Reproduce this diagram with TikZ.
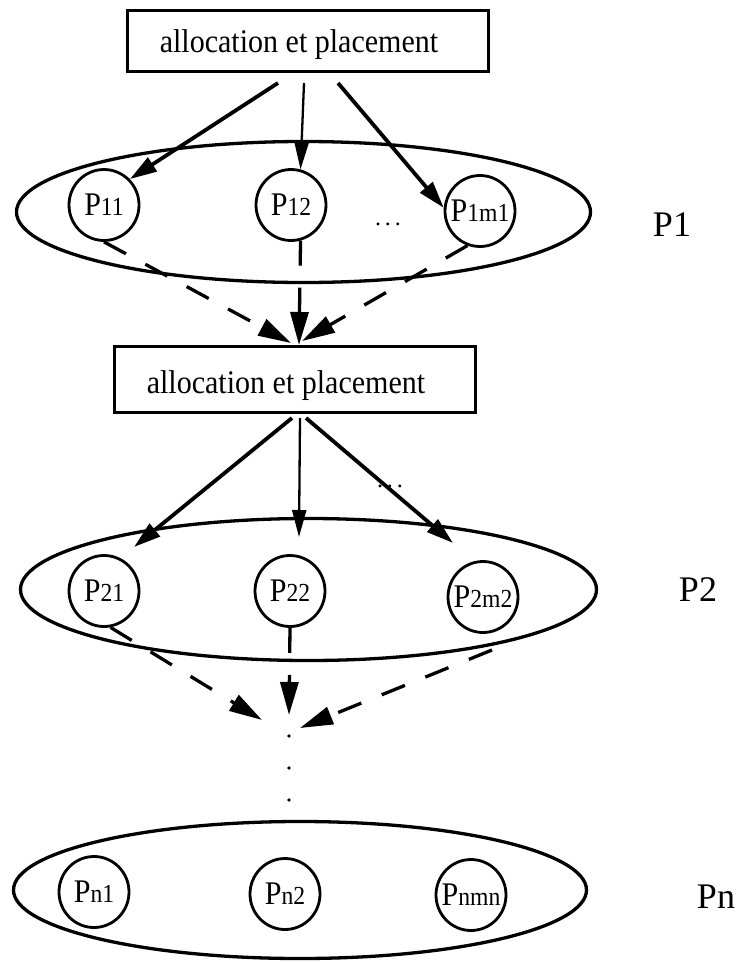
\documentclass[tikz,border=0pt]{standalone}
\usepackage{fontspec}
\setmainfont{Liberation Serif}
\newfontfamily\narrowserif{Liberation Serif}[FakeStretch=0.91]
\usetikzlibrary{arrows.meta,shapes.geometric}

% processor name: capital P followed by a smaller index on the baseline
\newcommand{\pname}[2]{\makebox[0pt]{\narrowserif\fontsize{33}{33}\selectfont
  #1{\fontsize{26}{26}\selectfont #2}}}
\newcommand{\dotsrow}{{\fontsize{24}{24}\selectfont .\kern4pt.\kern4pt.}}

\begin{document}
\begin{tikzpicture}[x=1pt,y=-1pt,
  every node/.style={font=\fontsize{30}{30}\selectfont},
  phase/.style={font=\fontsize{36}{36}\selectfont},
  group/.style={draw,ellipse,line width=3.3pt,inner sep=0pt},
  proc/.style={draw,ellipse,line width=2.8pt,inner sep=0pt,
    minimum width=70pt,minimum height=71pt},
  taskbox/.style={draw,rectangle,line width=3pt,inner sep=0pt,
    minimum width=361pt,text depth=0pt,
    font=\narrowserif\fontsize{33}{33}\selectfont},
  alloc/.style={-{Triangle[length=27pt,width=16pt]},line width=3.8pt},
  allocmid/.style={-{Triangle[length=27pt,width=14pt]},line width=2.3pt},
  flow/.style={-{Triangle[length=33pt,width=18pt]},line width=3.3pt,
    dash pattern=on 25pt off 22pt},
]
\useasboundingbox (0,0) rectangle (740,963);

% ---------- phase 1 ----------
\node[taskbox,minimum height=61pt,text height=23pt] (alloc1) at (307.5,41.5)
  {allocation et placement\hspace*{17pt}};

\node[group,minimum width=574pt,minimum height=141pt] (g1) at (303.5,212) {};
\node[proc] (p11)  at (104,205) {\pname{P}{11}};
\node[proc] (p12)  at (291,205) {\pname{P}{12}};
\node[proc] (p1m1) at (480,211) {\pname{P}{1m1}};
\node (d1) at (388,224) {\dotsrow};
\node[phase] (l1) at (672,225) {P1};

\coordinate (a1l) at (278,83);
\coordinate (a1m) at (304,83);
\coordinate (a1r) at (338,83);
\draw[alloc]    (a1l) -- (p11.45);
\draw[allocmid] (a1m) -- (p12.75);
\draw[alloc]    (a1r) -- (p1m1.175);

% ---------- phase 2 ----------
\node[taskbox,minimum height=66pt,text height=27pt] (alloc2) at (294.5,379.5)
  {allocation et placement\hspace*{17pt}};

\coordinate (in2l) at (291,343);
\coordinate (in2m) at (299,345);
\coordinate (in2r) at (302,341);
\draw[flow] (p11.south)  -- (in2l);
\draw[flow] (p12.-75)    -- (in2m);
\draw[flow] (p1m1.-110)  -- (in2r);

\node[group,minimum width=576pt,minimum height=142pt] (g2) at (308.5,589.5) {};
\node[proc] (p21)  at (104,591) {\pname{P}{21}};
\node[proc] (p22)  at (290,591) {\pname{P}{22}};
\node[proc] (p2m2) at (483,597) {\pname{P}{2m2}};
\node (d2) at (390,486) {\dotsrow};
\node[phase] (l2) at (698,590) {P2};

\coordinate (a2l) at (292,418);
\coordinate (a2m) at (300,418);
\coordinate (a2r) at (306,418);
\draw[alloc]    (a2l) -- (134,547) coordinate (t2l);
\draw[allocmid] (a2m) -- (299,537) coordinate (t2m);
\draw[alloc]    (a2r) -- (453,543) coordinate (t2r);

% ---------- towards phase n ----------
\coordinate (o2r) at (492,650);
\coordinate (in3l) at (262,720);
\coordinate (in3m) at (289,715);
\coordinate (in3r) at (300,728);
\draw[flow] (p21.-80) -- (in3l);
\draw[flow] (p22.south) -- (in3m);
\draw[flow] (o2r) -- (in3r);

\fill (289,736) circle (1.8pt);
\fill (289,768) circle (1.8pt);
\fill (289,800) circle (1.8pt);

% ---------- phase n ----------
\node[group,minimum width=573pt,minimum height=137pt] (gn) at (300,890) {};
\node[proc] (pn1)  at (94,892)  {\pname{P}{n1}};
\node[proc] (pn2)  at (285,894) {\pname{P}{n2}};
\node[proc] (pnmn) at (471,895) {\pname{P}{nmn}};
\node[phase] (ln) at (716,897) {Pn};
\end{tikzpicture}
\end{document}
